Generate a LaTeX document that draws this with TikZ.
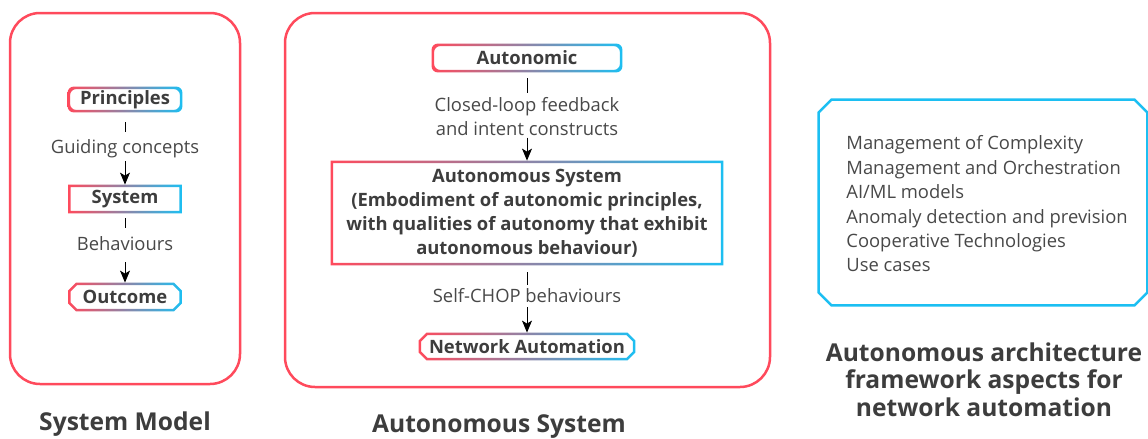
\documentclass[tikz,border=0pt]{standalone}
\usepackage{fontspec}
\setmainfont{Open Sans}
\usetikzlibrary{arrows.meta}
\definecolor{rd}{HTML}{FF4A5C}
\definecolor{bl}{HTML}{1CBFF2}
\definecolor{ink}{HTML}{3D3D3D}
\definecolor{txt}{HTML}{484848}
\tikzstyle{panel} = [draw=rd, line width=1.25pt, rounded corners=15pt, inner sep=0pt]
\tikzstyle{box} = [inner sep=1pt, text=ink, font=\fontsize{9.2}{12}\selectfont\bfseries, align=center]
\tikzstyle{lbl} = [inner sep=0pt, text=txt, font=\fontsize{9.2}{12}\selectfont, align=center]
\tikzstyle{title} = [inner sep=0pt, text=ink, font=\fontsize{12.3}{13.75}\selectfont\bfseries, align=center]
\tikzstyle{arrow} = [black, line width=0.5pt, -{Stealth[length=6pt,width=5pt,inset=1.5pt]}]
\tikzstyle{tick} = [black, line width=0.5pt]
% gradient outline of a (rounded) rectangle node
\newcommand{\gradring}[2]{%
  \shade[left color=rd, right color=bl, even odd rule, rounded corners=#2]
    (#1.south west) rectangle (#1.north east)
    ([shift={(1.25pt,1.25pt)}]#1.south west) rectangle ([shift={(-1.25pt,-1.25pt)}]#1.north east);}
% outline of a node with cut corners
\newcommand{\champath}[3]{([shift={(#2,-#3)}]#1.north west) -- ([shift={(-#2,-#3)}]#1.north east) -- ([shift={(-#3,-#2)}]#1.north east) -- ([shift={(-#3,#2)}]#1.south east) -- ([shift={(-#2,#3)}]#1.south east) -- ([shift={(#2,#3)}]#1.south west) -- ([shift={(#3,#2)}]#1.south west) -- ([shift={(#3,-#2)}]#1.north west) -- cycle}

\begin{document}
\begin{tikzpicture}[x=0.5pt,y=-0.5pt]
\useasboundingbox (0,0) rectangle (1148,439);
% panels
\node[panel, minimum width=115pt, minimum height=185.5pt] (modelpanel) at (125,198.5) {};
\node[panel, minimum width=242.5pt, minimum height=187pt] (autopanel) at (527.5,200) {};

% system model
\node[box, minimum width=57pt, minimum height=12.5pt] (principles) at (125,99.5) {Principles};
\node[lbl, text height=6.8pt, text depth=2pt] (guiding) at (125,149) {Guiding concepts};
\node[box, minimum width=56.5pt, minimum height=14pt] (system) at (125,199) {System};
\node[lbl, text height=6.8pt, text depth=2pt] (behaviours) at (125,246) {Behaviours};
\node[box, minimum width=56.5pt, minimum height=14pt] (outcome) at (125,297) {Outcome};
\gradring{principles}{3pt}
\gradring{system}{0.01pt}
\shade[left color=rd, right color=bl, even odd rule] \champath{outcome}{4pt}{0pt} \champath{outcome}{4.5pt}{1.25pt};
\draw[tick, shorten <=5pt, shorten >=4pt] (principles.south) -- (guiding.north);
\draw[arrow, shorten <=1.5pt] (guiding.south) -- (system.north);
\draw[tick, shorten <=2.5pt, shorten >=4.5pt] (system.south) -- (behaviours.north);
\draw[arrow, shorten <=3.5pt] (behaviours.south) -- (outcome.north);

% autonomous system
\node[box, minimum width=95pt, minimum height=14pt] (autonomic) at (527,58) {Autonomic};
\node[lbl] (closedloop) at (527,117) {Closed-loop feedback\\and intent constructs};
\node[box, minimum width=196pt, minimum height=52pt] (assys) at (527,213) {Autonomous System\\(Embodiment of autonomic principles,\\with qualities of autonomy that exhibit\\autonomous behaviour)};
\node[lbl, text height=6.8pt, text depth=2pt] (selfchop) at (527,298) {Self-CHOP behaviours};
\node[box, minimum width=108pt, minimum height=13.5pt] (netauto) at (527,346.5) {Network Automation};
\gradring{autonomic}{3pt}
\gradring{assys}{0.01pt}
\shade[left color=rd, right color=bl, even odd rule] \champath{netauto}{4pt}{0pt} \champath{netauto}{4.5pt}{1.25pt};
\draw[tick, shorten <=3pt, shorten >=2pt] (autonomic.south) -- (closedloop.north);
\draw[arrow, shorten <=0.5pt] (closedloop.south) -- (assys.north);
\draw[tick, shorten <=3.5pt, shorten >=2pt] (assys.south) -- (selfchop.north);
\draw[arrow] (selfchop.south) -- (netauto.north);

% framework aspects
\node[minimum width=164pt, minimum height=102.5pt, inner sep=0pt] (aspects) at (983,202.5) {};
\draw[bl, line width=1.25pt] \champath{aspects}{6.5pt}{0pt};
\node[lbl, align=left, anchor=west, font=\fontsize{9.2}{12.2}\selectfont] (aspectlist) at (846,204) {Management of Complexity\\Management and Orchestration\\AI/ML models\\Anomaly detection and prevision\\Cooperative Technologies\\Use cases};

% titles
\node[title] (modeltitle) at (125,424) {System Model};
\node[title] (autotitle) at (499,427) {Autonomous System};
\node[title] (aspectstitle) at (984,379.5) {Autonomous architecture\\framework aspects for\\network automation};
\end{tikzpicture}
\end{document}
